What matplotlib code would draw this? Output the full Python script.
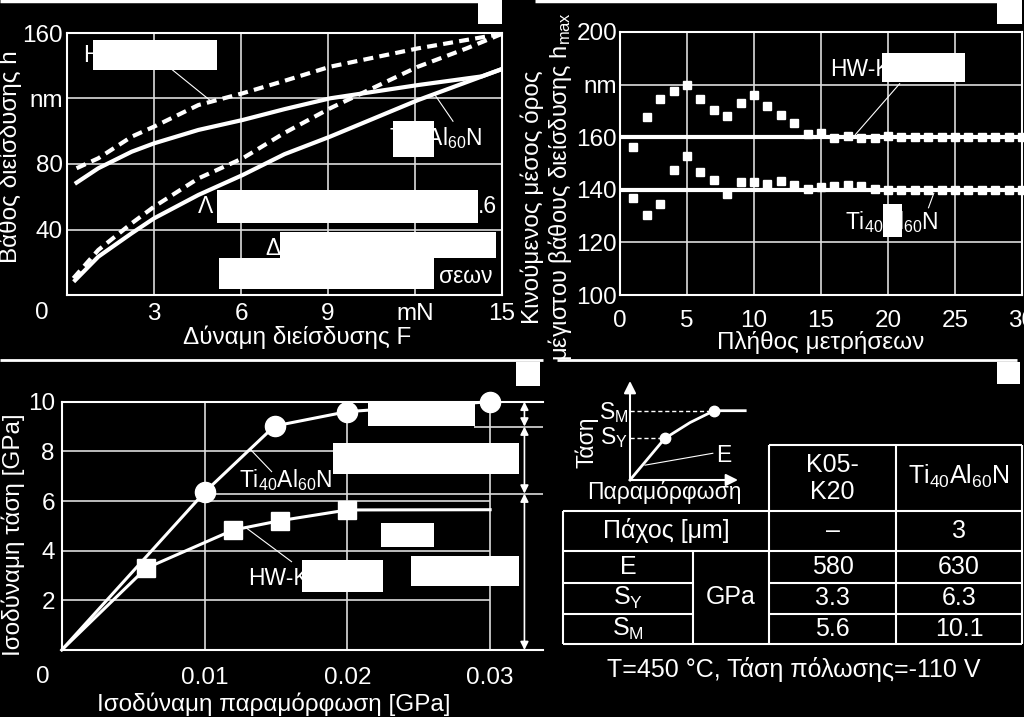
import matplotlib
matplotlib.use('Agg')
import matplotlib.pyplot as plt
from matplotlib.patches import Rectangle

plt.rcParams['font.family'] = ['Liberation Sans', 'DejaVu Sans']
plt.rcParams['mathtext.fontset'] = 'custom'
plt.rcParams['mathtext.rm'] = 'Liberation Sans'
plt.rcParams['mathtext.it'] = 'Liberation Sans:italic'
plt.rcParams['mathtext.bf'] = 'Liberation Sans:bold'

W, H = 1024, 717
FG = 'white'
GRID = '#dcdcdc'
FS = 17.5
TIALN = 'Ti$_{40}$Al$_{60}$N'
HW = 'HW-K05-K20'

# --- panel 1: indentation curves (F in mN, h in nm)
HW_LOAD_F = [0.22, 1.08, 2.23, 3.0, 4.53, 6.06, 7.5, 9.07, 12.1, 13.78, 15.0]
HW_LOAD_H = [10.2, 27.5, 43.8, 53.9, 71.2, 83.5, 99.0, 114.0, 139.4, 150.6, 159.5]
HW_UNLOAD_F = [0.33, 1.08, 2.23, 3.0, 4.53, 6.06, 7.5, 9.07, 12.1, 15.0]
HW_UNLOAD_H = [77.4, 83.5, 96.7, 102.8, 116.0, 123.2, 130.8, 139.4, 150.6, 159.5]
TI_LOAD_F = [0.28, 1.08, 2.23, 3.0, 4.53, 6.06, 7.5, 9.07, 12.1, 15.0]
TI_LOAD_H = [9.0, 23.4, 37.7, 46.8, 61.1, 73.3, 86.0, 96.7, 119.0, 138.0]
TI_UNLOAD_F = [0.33, 1.08, 2.23, 3.0, 4.53, 6.06, 7.5, 9.07, 12.1, 14.3, 15.0]
TI_UNLOAD_H = [68.6, 77.4, 87.5, 92.6, 100.8, 106.9, 113.5, 120.1, 128.2, 133.5, 138.0]
F_TICKS = [3, 6, 9, 12, 15]
F_TICKLABELS = ['3', '6', '9', 'mN', '15']
H_TICKS = [40, 80, 120, 160]
H_TICKLABELS = ['40', '80', 'nm', '160']

# --- panel 2: moving average of h_max
N_MEAS = list(range(1, 31))
HW_AVG = [156.1, 167.5, 174.5, 177.7, 179.8, 174.5, 170.4, 168.1, 173.0, 176.1,
          171.7, 168.5, 165.4, 161.3, 161.5, 159.6, 160.3, 159.6, 159.6, 160.3,
          160.0, 160.0, 160.0, 160.0, 160.0, 160.0, 160.0, 160.0, 160.0, 160.0]
TI_AVG = [136.8, 130.5, 134.5, 147.6, 152.9, 146.7, 143.8, 138.3, 142.9, 143.1,
          142.3, 143.5, 141.9, 140.2, 141.0, 141.5, 141.9, 141.5, 140.2, 140.0,
          140.0, 140.0, 140.0, 140.0, 140.0, 140.0, 140.0, 140.0, 140.0, 140.0]
HMAX_HW = 160
HMAX_TI = 140
N_TICKS = [0, 5, 10, 15, 20, 25, 30]
AVG_TICKS = [100, 120, 140, 160, 180, 200]
AVG_TICKLABELS = ['100', '120', '140', '160', 'nm', '200']

# --- panel 3: equivalent stress-strain
TI_STRAIN = [0, 0.01, 0.0149, 0.02, 0.03]
TI_STRESS = [0, 6.35, 9.02, 9.6, 10.0]
HW_STRAIN = [0, 0.0059, 0.012, 0.0153, 0.02, 0.03]
HW_STRESS = [0, 3.29, 4.83, 5.21, 5.64, 5.65]
REF_LEVELS = [10.0, 9.0, 6.3, 0.0]
REF_START = [0.0, 0.0289, 0.01, 0.0]

# --- panel 4: schematic and table
SCHEM_X = [0, 0.29, 0.50, 0.70, 0.96]
SCHEM_Y = [0, 0.42, 0.58, 0.70, 0.70]
TABLE_HEAD = [['K05-', 'K20'], [TIALN]]
THICK = ['–', '3']
PROPS = ['E', 'S$_\\mathrm{Y}$', 'S$_\\mathrm{M}$']
K05_VALS = ['580', '3.3', '5.6']
TI_VALS = ['630', '6.3', '10.1']

fig = plt.figure(figsize=(W / 100, H / 100), dpi=100, facecolor='black')


def px_axes(x0, y0, x1, y1, **kw):
    return fig.add_axes([x0 / W, 1 - y1 / H, (x1 - x0) / W, (y1 - y0) / H], **kw)


def style(ax):
    ax.set_facecolor('black')
    for s in ax.spines.values():
        s.set_color(FG)
        s.set_linewidth(1.5)
    ax.tick_params(colors=FG, length=0, labelsize=FS)
    ax.set_axisbelow(True)


# panel 1
ax1 = px_axes(67, 33, 502, 295)
style(ax1)
ax1.set_xlim(0, 15)
ax1.set_ylim(0, 160)
ax1.set_xticks(F_TICKS, F_TICKLABELS)
ax1.set_yticks(H_TICKS, H_TICKLABELS)
ax1.tick_params(axis='x', pad=6)
ax1.tick_params(axis='y', pad=3)
ax1.grid(color=GRID, lw=1.2)
dash = (0, (2.4, 1.5))
ax1.plot(HW_LOAD_F, HW_LOAD_H, color=FG, lw=3, ls=dash)
ax1.plot(HW_UNLOAD_F, HW_UNLOAD_H, color=FG, lw=3, ls=dash)
ax1.plot(TI_LOAD_F, TI_LOAD_H, color=FG, lw=3)
ax1.plot(TI_UNLOAD_F, TI_UNLOAD_H, color=FG, lw=3)

# panel 2
ax2 = px_axes(620, 32, 1022, 295)
style(ax2)
ax2.set_xlim(0, 30)
ax2.set_ylim(100, 200)
ax2.set_xticks(N_TICKS)
ax2.set_yticks(AVG_TICKS, AVG_TICKLABELS)
ax2.tick_params(axis='x', pad=11)
ax2.tick_params(axis='y', pad=2)
ax2.grid(color=GRID, lw=1.2)
ax2.axhline(HMAX_HW, color=FG, lw=3)
ax2.axhline(HMAX_TI, color=FG, lw=3)
ax2.plot(N_MEAS, HW_AVG, 's', color=FG, ms=5.5, clip_on=False)
ax2.plot(N_MEAS, TI_AVG, 's', color=FG, ms=5.5, clip_on=False)

# panel 3
ax3 = px_axes(61.7, 401.7, 543, 650)
style(ax3)
ax3.spines['right'].set_visible(False)
ax3.set_xlim(0, 0.0337)
ax3.set_ylim(0, 10)
ax3.set_xticks([0.01, 0.02, 0.03], ['0.01', '0.02', '0.03'])
ax3.set_yticks([2, 4, 6, 8, 10])
ax3.tick_params(axis='x', pad=12)
ax3.tick_params(axis='y', pad=5)
ax3.hlines([2, 4, 6, 8], 0, 0.03, color=GRID, lw=1.2)
ax3.vlines([0.01, 0.02, 0.03], 0, 10, color=GRID, lw=1.2)
ax3.hlines(REF_LEVELS[1:3], REF_START[1:3], 0.0337, color=GRID, lw=1.2)
ax3.plot(TI_STRAIN, TI_STRESS, color=FG, lw=2.2, marker='o', ms=14.5,
         markevery=[1, 2, 3, 4], clip_on=False, zorder=4)
ax3.plot(HW_STRAIN, HW_STRESS, color=FG, lw=2.2, marker='s', ms=13,
         markevery=[1, 2, 3, 4], zorder=4)
for top, bot in zip(REF_LEVELS[:-1], REF_LEVELS[1:]):
    ax3.annotate('', xy=(0.0324, bot), xytext=(0.0324, top), annotation_clip=False,
                 arrowprops=dict(arrowstyle='<|-|>', color=FG, lw=1.2,
                                 mutation_scale=12, shrinkA=0, shrinkB=0))

# inset schematic
axi = px_axes(630, 381, 750, 480)
axi.set_xlim(0, 1)
axi.set_ylim(0, 1)
axi.axis('off')
axi.plot(SCHEM_X, SCHEM_Y, color=FG, lw=2, clip_on=False)
axi.plot(SCHEM_X[1:4:2], SCHEM_Y[1:4:2], 'o', color=FG, ms=7.5, clip_on=False)
axi.hlines(SCHEM_Y[1:4:2], 0, SCHEM_X[1:4:2], color=FG, lw=1, ls=(0, (3, 2)))
axi.annotate('', xy=(0, 1.0), xytext=(0, 0), annotation_clip=False,
             arrowprops=dict(arrowstyle='-|>', color=FG, lw=1.5, mutation_scale=18, shrinkA=0, shrinkB=0))
axi.annotate('', xy=(0.9, 0), xytext=(0, 0), annotation_clip=False,
             arrowprops=dict(arrowstyle='-|>', color=FG, lw=1.5, mutation_scale=18, shrinkA=0, shrinkB=0))
axi.plot([0.125, 0.69], [0.15, 0.27], color=FG, lw=0.8, clip_on=False)

# overlay in pixel coordinates
ov = px_axes(0, 0, W, H, zorder=10)
ov.set_xlim(0, W)
ov.set_ylim(H, 0)
ov.axis('off')
ov.patch.set_alpha(0)


def txt(x, y, s, size=FS, **kw):
    kw.setdefault('ha', 'center')
    kw.setdefault('va', 'center')
    ov.text(x, y, s, color=FG, fontsize=size, **kw)


def seg(x0, y0, x1, y1, lw=1.5):
    ov.plot([x0, x1], [y0, y1], color=FG, lw=lw, solid_capstyle='butt')


# axis labels
txt(10, 157, 'Βάθος διείσδυσης h', rotation=90)
txt(297, 337, 'Δύναμη διείσδυσης F')
txt(41.7, 313.3, '0')
txt(532, 197, 'Κινούμενος μέσος όρος', rotation=90)
txt(560, 186, 'μέγιστου βάθους διείσδυσης h$_\\mathrm{max}$', 17, rotation=90)
txt(821, 342, 'Πλήθος μετρήσεων')
txt(13, 535, 'Ισοδύναμη τάση [GPa]', rotation=90)
txt(274, 704, 'Ισοδύναμη παραμόρφωση [GPa]')
txt(42.5, 676.7, '0')

# curve labels and leader lines
LS = 16.5
txt(83, 62, HW, LS, ha='left', va='baseline')
seg(171.7, 69.3, 211.7, 101.7, 0.8)
txt(482, 145, TIALN, LS, ha='right', va='baseline')
seg(453.3, 121.7, 435, 95, 0.8)
txt(198, 213, 'Λ', LS, ha='left', va='baseline')
txt(497, 213, '.6', LS, ha='right', va='baseline')
txt(265, 255, 'Δ', LS, ha='left', va='baseline')
txt(493, 283, 'σεων', LS, ha='right', va='baseline')

txt(830, 76, HW, LS, ha='left', va='baseline')
seg(900, 83.3, 855, 135, 0.8)
txt(845, 229, TIALN, LS, ha='left', va='baseline')
seg(928.3, 208.3, 934, 192.7, 0.8)

txt(332, 487, TIALN, LS, ha='right', va='baseline')
seg(272, 472, 250, 449, 0.8)
txt(248, 585, HW, LS, ha='left', va='baseline')
seg(292, 562, 245, 527, 0.8)

# frame lines between panels
seg(0, 1.2, 478, 1.2, 2.5)
seg(535, 1.2, 997, 1.2, 2.5)
seg(0, 360, 543, 360, 2)
seg(557, 360, 1017, 360, 2)

# schematic labels
SS = 16.5
txt(628, 413, 'S$_\\mathrm{M}$', SS, ha='right')
txt(628, 438, 'S$_\\mathrm{Y}$', SS, ha='right')
txt(587, 442, 'Τάση', SS, rotation=90)
txt(716, 455, 'E', SS, ha='left')
txt(664, 492, 'Παραμόρφωση', SS)

# table
TS = 18
TX = [563, 693, 769, 896, 1022]
TY = [445, 510.5, 551, 582.5, 614, 644]
seg(TX[2], TY[0], TX[4], TY[0])
for y in (TY[1], TY[2], TY[5]):
    seg(TX[0], y, TX[4], y)
for y in (TY[3], TY[4]):
    seg(TX[0], y, TX[1], y)
    seg(TX[2], y, TX[4], y)
for x in TX[2:]:
    seg(x, TY[0], x, TY[5])
seg(TX[0], TY[1], TX[0], TY[5])
seg(TX[1], TY[2], TX[1], TY[5])

c1 = (TX[2] + TX[3]) / 2
c2 = (TX[3] + TX[4]) / 2
txt(c1, 465, TABLE_HEAD[0][0], TS)
txt(c1, 491.7, TABLE_HEAD[0][1], TS)
txt(c2, 476.7, TABLE_HEAD[1][0], TS)
txt((TX[0] + TX[2]) / 2, 530.7, 'Πάχος [μm]', TS)
txt(c1, 530.7, THICK[0], TS)
txt(c2, 530.7, THICK[1], TS)
for i, (p, a, b) in enumerate(zip(PROPS, K05_VALS, TI_VALS)):
    yc = (TY[2 + i] + TY[3 + i]) / 2
    txt((TX[0] + TX[1]) / 2, yc, p, TS)
    txt(c1, yc, a, TS)
    txt(c2, yc, b, TS)
txt((TX[1] + TX[2]) / 2, (TY[2] + TY[5]) / 2, 'GPa', TS)
txt(794, 670, 'T=450 °C, Τάση πόλωσης=-110 V', TS)

# white boxes
REDACT = [
    (478, 0, 502, 24), (997, 0, 1022, 24), (516, 362, 540, 386), (997, 362, 1020, 384),
    (93, 40, 217, 70), (393, 121, 434, 157), (217, 190, 478, 223),
    (280, 232, 496, 258), (219, 258, 434, 289),
    (882, 53, 965, 82), (883, 204, 902, 237),
    (368, 402, 475, 426), (333, 443, 519, 474), (381, 523, 434, 547),
    (302, 560, 383, 592), (411, 556, 519, 586),
]
for x0, y0, x1, y1 in REDACT:
    ov.add_patch(Rectangle((x0, y0), x1 - x0, y1 - y0, facecolor=FG, edgecolor='none', zorder=5))

fig.savefig('out.png', dpi=100, facecolor='black')
